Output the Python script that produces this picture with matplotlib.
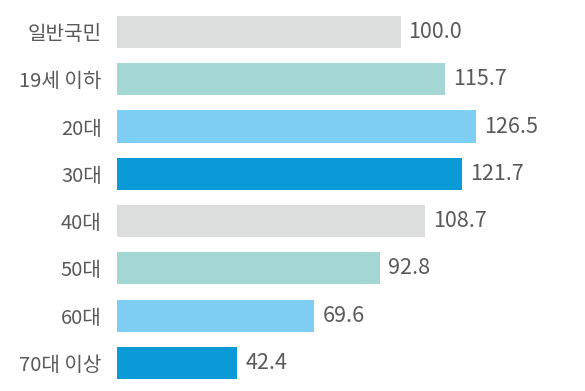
import matplotlib.pyplot as plt

plt.rcParams['font.family'] = ['Noto Sans CJK KR', 'DejaVu Sans']

#### data
categories = ['일반국민', '19세 이하', '20대', '30대', '40대', '50대', '60대', '70대 이상']
values = [100.0, 115.7, 126.5, 121.7, 108.7, 92.8, 69.6, 42.4]
colors = ['#dcdddd', '#a4d7d4', '#7ecdf3', '#0b9ad8',
          '#dcdddd', '#a4d7d4', '#7ecdf3', '#0b9ad8']

#### plot
fig = plt.figure(figsize=(5.85, 3.91), dpi=100)
ax = fig.add_axes([0.2, 0.0113, 0.8, 0.9675])

ypos = range(len(categories))
ax.barh(ypos, values, height=0.68, color=colors)

for y, v in zip(ypos, values):
    ax.text(v + 2.8, y, f'{v:.1f}', va='center', ha='left',
            fontsize=15.5, color='#595959')

ax.set_yticks(list(ypos))
ax.set_yticklabels(categories, fontsize=14.5, color='#595959')
ax.tick_params(axis='y', length=0, pad=11)
ax.set_xticks([])
ax.set_xlim(0, 165)
ax.set_ylim(7.5, -0.5)
for s in ax.spines.values():
    s.set_visible(False)

fig.savefig('out.png', dpi=100)
